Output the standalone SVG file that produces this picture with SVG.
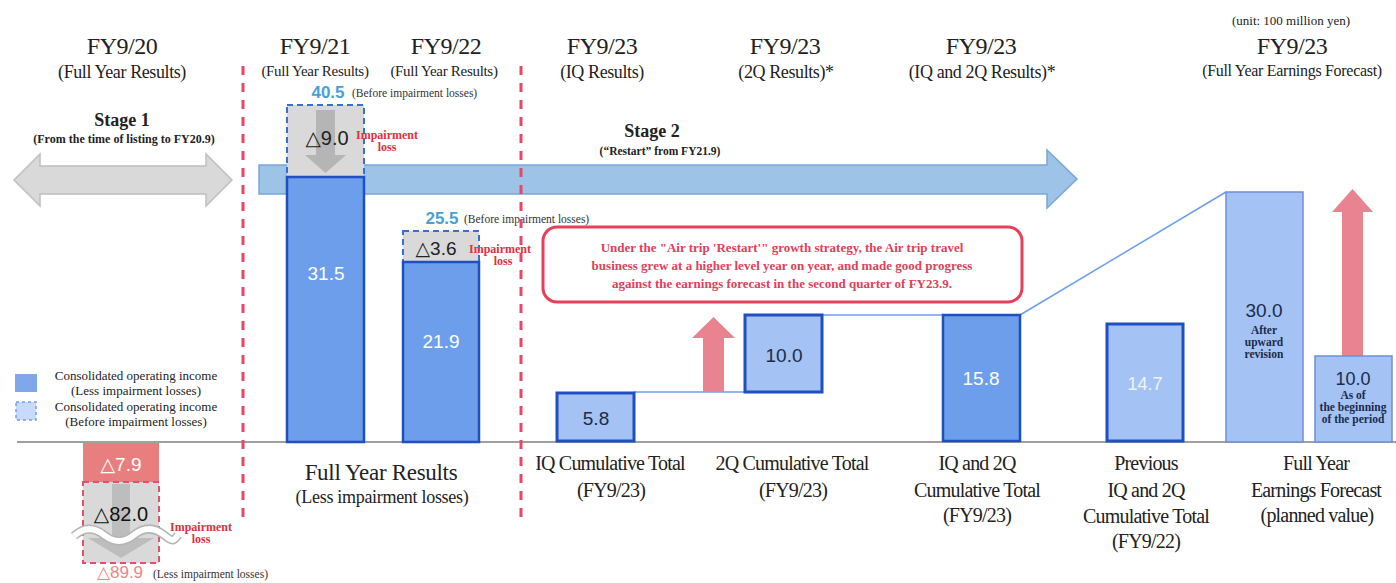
<svg xmlns="http://www.w3.org/2000/svg" width="1396" height="583" viewBox="0 0 1396 583">
<style>
.hd{font-family:"Liberation Serif",serif;fill:#222;text-anchor:middle}
.h1{font-size:24px;letter-spacing:-0.5px}
.h2{font-size:18px;letter-spacing:-0.4px}
.h3{font-size:15px;letter-spacing:-0.3px}
.stg{font-family:"Liberation Serif",serif;font-weight:bold;fill:#222;text-anchor:middle}
.lab{font-family:"Liberation Serif",serif;fill:#222;text-anchor:middle;font-size:20px;letter-spacing:-0.8px}
.num{font-family:"Liberation Sans","DejaVu Sans",sans-serif;text-anchor:middle}
.imp{font-family:"Liberation Serif",serif;font-weight:bold;fill:#e03040;font-size:12px;text-anchor:middle}
.note{font-family:"Liberation Serif",serif;fill:#333;font-size:11.5px}
.dark{fill:#6d9eeb;stroke:#1f4fc0;stroke-width:2.5}
.light{fill:#a4c2f4;stroke:#1f4fc0;stroke-width:3}
.lightthin{fill:#a4c2f4;stroke:#6d8ed8;stroke-width:1.5}
.dbox{fill:#d9d9d9;stroke:#3a6fd0;stroke-width:2;stroke-dasharray:6 4}
.rdash{stroke:#e8476a;stroke-width:3;stroke-dasharray:9 8;fill:none}
.pink{fill:#e8838f}
.conn{stroke:#6d9eeb;stroke-width:1.5;fill:none}
.bnote{font-family:"Liberation Serif",serif;font-weight:bold;fill:#1c2b4a;font-size:11.5px;text-anchor:middle}
.call{font-family:"Liberation Serif",serif;font-weight:bold;fill:#e0405a;font-size:13px;text-anchor:middle}
</style>

<!-- headings -->
<g id="headings">
<text class="hd h1" x="122" y="54">FY9/20</text>
<text class="hd h2" x="122" y="78">(Full Year Results)</text>
<text class="hd h1" x="315" y="54">FY9/21</text>
<text class="hd h3" x="315" y="76">(Full Year Results)</text>
<text class="hd h1" x="446" y="54">FY9/22</text>
<text class="hd h3" x="444" y="76">(Full Year Results)</text>
<text class="hd h1" x="602" y="54">FY9/23</text>
<text class="hd h2" x="602" y="78">(IQ Results)</text>
<text class="hd h1" x="785" y="54">FY9/23</text>
<text class="hd h2" x="786" y="78">(2Q Results)*</text>
<text class="hd h1" x="981" y="54">FY9/23</text>
<text class="hd h2" x="982" y="78">(IQ and 2Q Results)*</text>
<text class="hd" x="1291" y="25" font-size="13">(unit: 100 million yen)</text>
<text class="hd h1" x="1292" y="54">FY9/23</text>
<text class="hd" x="1292" y="76" font-size="16" letter-spacing="-0.3">(Full Year Earnings Forecast)</text>
</g>

<!-- stage arrows -->
<g id="stage1">
<polygon points="14,180 40,154 40,166 206,166 206,154 232,180 206,206 206,194 40,194 40,206" fill="#d9d9d9" stroke="#bfbfbf" stroke-width="1.5"/>
<text class="stg" x="122" y="126" font-size="18">Stage 1</text>
<text class="stg" x="124" y="143" font-size="12">(From the time of listing to FY20.9)</text>
</g>
<g id="stage2">
<polygon points="259,165 1047,165 1047,150 1077,179 1047,208 1047,194 259,194" fill="#9dc3e6" stroke="#7aa6d8" stroke-width="1.5"/>
<text class="stg" x="652" y="137" font-size="18">Stage 2</text>
<text class="stg" x="660" y="155" font-size="11.5">(“Restart” from FY21.9)</text>
</g>

<!-- baseline -->
<line x1="17" y1="442" x2="1396" y2="442" stroke="#808080" stroke-width="1.5"/>

<!-- legend -->
<g id="legend">
<rect x="15" y="374" width="22" height="18" fill="#7fa7ea"/>
<rect x="16" y="402" width="20" height="18" fill="#c9daf8" stroke="#6d9eeb" stroke-width="1.5" stroke-dasharray="3 3"/>
<text class="hd" x="136" y="380" font-size="13">Consolidated operating income</text>
<text class="hd" x="136" y="395" font-size="13">(Less impairment losses)</text>
<text class="hd" x="136" y="411" font-size="13">Consolidated operating income</text>
<text class="hd" x="136" y="426" font-size="13">(Before impairment losses)</text>
</g>

<!-- FY9/20 -->
<g id="fy20">
<rect x="83" y="443" width="76" height="39" fill="#e97e7e"/>
<text class="num" x="121" y="471" font-size="19" fill="#fff">△7.9</text>
<rect x="83" y="482" width="76" height="81" fill="#d9d9d9" stroke="#e05070" stroke-width="2" stroke-dasharray="6 4"/>
<rect x="112" y="484" width="18" height="56" fill="#bdbdbd"/>
<polygon points="88,538 154,538 121,558" fill="#bdbdbd"/>
<path d="M74,536 C84,527 94,527 104,535 S124,543 134,535 S154,527 164,535 S174,540 178,535" fill="none" stroke="#b5b5b5" stroke-width="9"/>
<path d="M74,536 C84,527 94,527 104,535 S124,543 134,535 S154,527 164,535 S174,540 178,535" fill="none" stroke="#fff" stroke-width="6"/>
<text class="num" x="121" y="521" font-size="20" fill="#111">△82.0</text>
<text class="imp" x="201" y="531">Impairment</text>
<text class="imp" x="201" y="543">loss</text>
<text class="num" x="120" y="578" font-size="17" fill="#ef8585">△89.9</text>
<text class="note" x="153" y="578">(Less impairment losses)</text>
</g>

<!-- FY9/21 -->
<g id="fy21">
<rect class="dbox" x="287" y="105" width="77" height="72"/>
<rect x="316" y="110" width="19" height="46" fill="#b5b5b5"/>
<polygon points="305,155 346,155 325.5,173" fill="#b5b5b5"/>
<rect class="dark" x="287" y="177" width="77" height="265"/>
<text class="num" x="327" y="145" font-size="20" fill="#222">△9.0</text>
<text class="imp" x="387" y="139">Impairment</text>
<text class="imp" x="387" y="151">loss</text>
<text class="num" x="328" y="98" font-size="17" font-weight="bold" fill="#4a9fd8">40.5</text>
<text class="note" x="352" y="97">(Before impairment losses)</text>
<text class="num" x="326" y="280" font-size="19" fill="#fff">31.5</text>
</g>

<!-- FY9/22 -->
<g id="fy22">
<rect class="dbox" x="403" y="231" width="76" height="31"/>
<rect class="dark" x="403" y="262" width="76" height="180"/>
<text class="num" x="436" y="255" font-size="19" fill="#222">△3.6</text>
<text class="imp" x="500" y="253">Impairment</text>
<text class="imp" x="503" y="265">loss</text>
<text class="num" x="442" y="224" font-size="17" font-weight="bold" fill="#4a9fd8">25.5</text>
<text class="note" x="464" y="223">(Before impairment losses)</text>
<text class="num" x="441" y="348" font-size="19" fill="#fff">21.9</text>
<text class="hd" x="381" y="480" font-size="23" letter-spacing="-0.3">Full Year Results</text>
<text class="hd" x="382" y="503" font-size="18" letter-spacing="-0.3">(Less impairment losses)</text>
</g>

<!-- red dashed dividers -->
<g id="dividers">
<line class="rdash" x1="243" y1="66" x2="243" y2="520"/>
<line class="rdash" x1="521" y1="66" x2="521" y2="520"/>
</g>

<!-- connectors -->
<g id="connectors">
<line class="conn" x1="634" y1="392" x2="745" y2="392"/>
<line class="conn" x1="822" y1="315" x2="943" y2="315"/>
<line class="conn" x1="1020" y1="315" x2="1226" y2="192"/>
</g>

<!-- callout -->
<g id="callout">
<rect x="543" y="227" width="479" height="75" rx="14" fill="#fff" stroke="#e8405a" stroke-width="3"/>
<text class="call" x="782" y="252">Under the "Air trip 'Restart'" growth strategy, the Air trip travel</text>
<text class="call" x="782" y="270">business grew at a higher level year on year, and made good progress</text>
<text class="call" x="782" y="288">against the earnings forecast in the second quarter of FY23.9.</text>
</g>

<!-- 1Q -->
<g id="q1">
<rect class="light" x="557" y="393" width="77" height="48"/>
<text class="num" x="596" y="425" font-size="19" fill="#1c2b4a">5.8</text>
<text class="lab" x="610" y="470">IQ Cumulative Total</text>
<text class="lab" x="611" y="497">(FY9/23)</text>
</g>

<!-- pink arrow 1 -->
<g id="uparrow1">
<polygon class="pink" points="703,392 703,338 692,338 713.5,317 735,338 724,338 724,392"/>
</g>

<!-- 2Q -->
<g id="q2">
<rect class="light" x="745" y="315" width="77" height="77"/>
<text class="num" x="784" y="362" font-size="19" fill="#1c2b4a">10.0</text>
<text class="lab" x="792" y="470">2Q Cumulative Total</text>
<text class="lab" x="793" y="497">(FY9/23)</text>
</g>

<!-- 1Q and 2Q -->
<g id="h1">
<rect class="dark" x="943" y="315" width="77" height="126"/>
<text class="num" x="981" y="385" font-size="19" fill="#fff">15.8</text>
<text class="lab" x="977" y="470">IQ and 2Q</text>
<text class="lab" x="977" y="497">Cumulative Total</text>
<text class="lab" x="977" y="522">(FY9/23)</text>
</g>

<!-- previous -->
<g id="prev">
<rect class="light" x="1107" y="324" width="76" height="117"/>
<text class="num" x="1145" y="390" font-size="18" fill="#eef3ff">14.7</text>
<text class="lab" x="1146" y="470">Previous</text>
<text class="lab" x="1146" y="497">IQ and 2Q</text>
<text class="lab" x="1146" y="523">Cumulative Total</text>
<text class="lab" x="1146" y="548">(FY9/22)</text>
</g>

<!-- forecast -->
<g id="forecast">
<rect class="lightthin" x="1226" y="192" width="77" height="250"/>
<text class="num" x="1264" y="317" font-size="19" fill="#1c2b4a">30.0</text>
<text class="bnote" x="1264" y="334">After</text>
<text class="bnote" x="1264" y="346">upward</text>
<text class="bnote" x="1264" y="358">revision</text>
<polygon class="pink" points="1342,356 1342,212 1332,212 1352.5,189 1373,212 1363,212 1363,356"/>
<rect class="lightthin" x="1315" y="356" width="77" height="86"/>
<text class="num" x="1353" y="385" font-size="18" fill="#1c2b4a">10.0</text>
<text class="bnote" x="1353" y="399">As of</text>
<text class="bnote" x="1353" y="411">the beginning</text>
<text class="bnote" x="1353" y="423">of the period</text>
<text class="lab" x="1316" y="470">Full Year</text>
<text class="lab" x="1316" y="497">Earnings Forecast</text>
<text class="lab" x="1317" y="522">(planned value)</text>
</g>
</svg>
